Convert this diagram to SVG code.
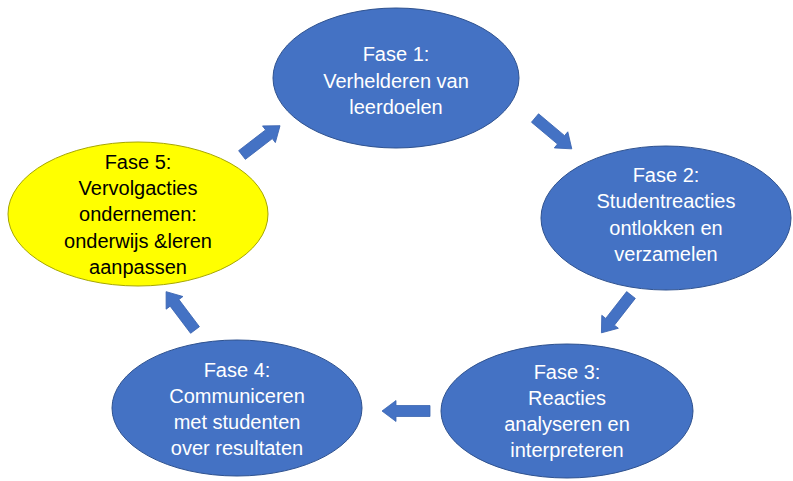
<svg xmlns="http://www.w3.org/2000/svg" xmlns:xlink="http://www.w3.org/1999/xlink" width="793" height="481" viewBox="0 0 793 481">
<style>
.blue{fill:#4472C4;stroke:#2F528F;stroke-width:1}
.yellow{fill:#FFFF00;stroke:#A6A600;stroke-width:1}
text{font-family:"Liberation Sans",Arial,sans-serif;font-size:20px;text-anchor:middle}
.w{fill:#FFFFFF}
.k{fill:#000000}
.arr{fill:#4472C4;stroke:#3A64B0;stroke-width:0.8}
</style>
<defs>
<polygon id="arrow" points="0,-5.5 34,-5.5 34,-10.5 48,0 34,10.5 34,5.5 0,5.5"/>
</defs>
<rect width="793" height="481" fill="#FFFFFF"/>
<g id="connectors">
<use xlink:href="#arrow" class="arr" transform="translate(242,155) rotate(-37.6)"/>
<use xlink:href="#arrow" class="arr" transform="translate(535,118) rotate(40)"/>
<use xlink:href="#arrow" class="arr" transform="translate(631,295) rotate(128)"/>
<use xlink:href="#arrow" class="arr" transform="translate(430,411) rotate(180)"/>
<use xlink:href="#arrow" class="arr" transform="translate(195,330) rotate(233)"/>
</g>
<g id="fase1">
<ellipse class="blue" cx="396" cy="78" rx="123" ry="70"/>
<text class="w" x="396" y="61">Fase 1:</text>
<text class="w" x="396" y="88">Verhelderen van</text>
<text class="w" x="396" y="114">leerdoelen</text>
</g>
<g id="fase2">
<ellipse class="blue" cx="666" cy="218" rx="125" ry="72"/>
<text class="w" x="666" y="182">Fase 2:</text>
<text class="w" x="666" y="208">Studentreacties</text>
<text class="w" x="666" y="235">ontlokken en</text>
<text class="w" x="666" y="261">verzamelen</text>
</g>
<g id="fase3">
<ellipse class="blue" cx="567" cy="411" rx="126" ry="67"/>
<text class="w" x="567" y="379">Fase 3:</text>
<text class="w" x="567" y="405">Reacties</text>
<text class="w" x="567" y="431">analyseren en</text>
<text class="w" x="567" y="457">interpreteren</text>
</g>
<g id="fase4">
<ellipse class="blue" cx="237" cy="408" rx="125" ry="68"/>
<text class="w" x="237" y="377">Fase 4:</text>
<text class="w" x="237" y="403">Communiceren</text>
<text class="w" x="237" y="429">met studenten</text>
<text class="w" x="237" y="455">over resultaten</text>
</g>
<g id="fase5">
<ellipse class="yellow" cx="138" cy="214" rx="130" ry="72"/>
<text class="k" x="138" y="169">Fase 5:</text>
<text class="k" x="138" y="195">Vervolgacties</text>
<text class="k" x="138" y="221">ondernemen:</text>
<text class="k" x="138" y="248">onderwijs &amp;leren</text>
<text class="k" x="138" y="274">aanpassen</text>
</g>
</svg>
